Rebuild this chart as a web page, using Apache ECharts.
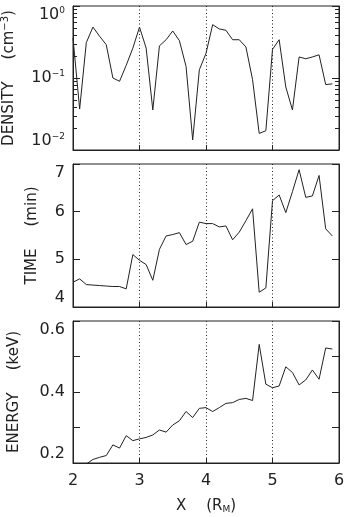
<!DOCTYPE html>
<html>
<head>
<meta charset="utf-8">
<script src="https://cdn.jsdelivr.net/npm/echarts@6/dist/echarts.min.js"></script>
<style>
html,body{margin:0;padding:0;background:#fff;}
#c{width:344px;height:517px;}
</style>
</head>
<body>
<div id="c"></div>
<script>
// X positions (R_M)
const xValues = [2.0,2.1,2.2,2.3,2.4,2.5,2.6,2.7,2.8,2.9,3.0,3.1,3.2,3.3,3.4,3.5,3.6,3.7,3.8,3.9,
                 4.0,4.1,4.2,4.3,4.4,4.5,4.6,4.7,4.8,4.9,5.0,5.1,5.2,5.3,5.4,5.5,5.6,5.7,5.8,5.9];
// Density (cm^-3)
const density = [0.36,0.037,0.31,0.51,0.38,0.29,0.10,0.09,0.15,0.26,0.51,0.26,0.036,0.28,0.34,0.45,0.33,0.145,0.0138,0.13,
                 0.22,0.55,0.48,0.46,0.34,0.34,0.27,0.095,0.017,0.0185,0.25,0.34,0.075,0.036,0.196,0.185,0.196,0.21,0.081,0.083];
// Time (min)
const timeMin = [4.52,4.59,4.47,4.46,4.45,4.44,4.43,4.43,4.38,5.10,4.98,4.89,4.56,5.21,5.49,5.52,5.56,5.31,5.38,5.78,
                 5.75,5.75,5.68,5.70,5.41,5.57,5.81,6.06,4.31,4.40,6.23,6.35,5.98,6.42,6.88,6.30,6.33,6.76,5.64,5.49];
// Energy (keV)
const energy = [0.17,0.185,0.197,0.21,0.216,0.221,0.251,0.242,0.277,0.263,0.268,0.272,0.279,0.293,0.287,0.307,0.319,0.345,0.328,0.354,
                0.356,0.345,0.356,0.368,0.370,0.379,0.382,0.376,0.534,0.422,0.412,0.417,0.471,0.455,0.420,0.434,0.462,0.436,0.524,0.521];
// Log-axis minor tick values for the density panel
const densityMinorTicks = [0.02,0.03,0.04,0.05,0.06,0.07,0.08,0.09,0.2,0.3,0.4,0.5,0.6,0.7,0.8,0.9];
// Tick labels
const xTickLabels = ['2','3','4','5','6'];
const energyTickLabels = ['0.2','0.4','0.6'];

const pair = arr => arr.map((v, i) => [xValues[i], v]);
const INK = '#222222';
const FONT = '"DejaVu Sans", "Liberation Sans", sans-serif';

const grids = [
  {left: 73, right: 5, top: 6, height: 144},
  {left: 73, right: 5, top: 164, height: 143},
  {left: 73, right: 5, top: 321, height: 142}
];

const titleRich = {
  sup: {fontSize: 10, verticalAlign: 'top', color: INK, fontFamily: FONT, lineHeight: 18},
  sub: {fontSize: 9, verticalAlign: 'bottom', color: INK, fontFamily: FONT, lineHeight: 14},
  gap: {width: 22, fontSize: 15, fontFamily: FONT}
};

function xAxisFor(i) {
  const last = i === 2;
  return {
    type: 'value', gridIndex: i, min: 2, max: 6, interval: 1,
    axisLine: {show: true, lineStyle: {color: INK, width: 1}},
    axisTick: {show: true, inside: true, length: 5, lineStyle: {color: INK}},
    axisLabel: {show: last, margin: 10, fontSize: 16, color: INK, fontFamily: FONT,
                formatter: v => xTickLabels[Math.round(v) - 2]},
    splitLine: {show: true, lineStyle: {type: [1, 2.5], color: INK, width: 1}},
    name: last ? 'X{gap|}(R{sub|M})' : '',
    nameLocation: 'middle', nameGap: 36,
    nameTextStyle: {fontSize: 15, color: INK, fontFamily: FONT,
                    rich: Object.assign({}, titleRich, {gap: {width: 20, fontSize: 15, fontFamily: FONT}})}
  };
}

function yAxisPair(i, base) {
  const left = Object.assign({
    gridIndex: i, position: 'left',
    axisLine: {show: true, lineStyle: {color: INK, width: 1}},
    axisTick: {show: true, inside: true, length: 7, lineStyle: {color: INK}},
    splitLine: {show: false},
    nameLocation: 'middle',
    nameTextStyle: {fontSize: 15, color: INK, fontFamily: FONT, rich: titleRich}
  }, base);
  left.axisLabel = Object.assign({show: true, margin: 8, fontSize: 16, color: INK, fontFamily: FONT, lineHeight: 18,
                verticalAlignMinLabel: 'bottom', verticalAlignMaxLabel: 'top'}, base.axisLabel || {});
  const right = {
    gridIndex: i, position: 'right', type: base.type, min: base.min, max: base.max, interval: base.interval, logBase: base.logBase,
    axisLine: {show: true, lineStyle: {color: INK, width: 1}},
    axisTick: {show: true, inside: true, length: 7, lineStyle: {color: INK}},
    axisLabel: {show: false}, splitLine: {show: false}
  };
  return [left, right];
}

const yAxes = [
  ...yAxisPair(0, {type: 'log', logBase: 10, min: 0.01, max: 1,
    name: 'DENSITY{gap|}(cm{sup|−3})', nameGap: 55,
    axisLabel: {formatter: v => {
      const e = Math.round(Math.log10(v));
      return '10{sup|' + (e < 0 ? '−' + (-e) : e) + '}';
    }, rich: {sup: {fontSize: 9, verticalAlign: 'top', color: INK, fontFamily: FONT}}}}),
  ...yAxisPair(1, {type: 'value', min: 4, max: 7, interval: 1,
    name: 'TIME{gap|}(min)', nameGap: 33}),
  ...yAxisPair(2, {type: 'value', min: 0.2, max: 0.6, interval: 0.1,
    name: 'ENERGY{gap|}(keV)', nameGap: 51,
    axisLabel: {formatter: v => {
      const k = Math.round(v * 10);
      return k % 2 === 0 ? energyTickLabels[(k - 2) / 2] : '';
    }}})
];

const lineStyle = {color: INK, width: 1};
const option = {
  animation: false,
  backgroundColor: '#fff',
  grid: grids.map(g => Object.assign({show: true, borderColor: INK, borderWidth: 1, backgroundColor: 'transparent',
                                      outerBoundsMode: 'none', containLabel: false}, g)),
  xAxis: [xAxisFor(0), xAxisFor(1), xAxisFor(2)],
  yAxis: yAxes,
  series: [
    {type: 'line', xAxisIndex: 0, yAxisIndex: 0, data: pair(density), showSymbol: false, lineStyle, clip: true},
    {type: 'line', xAxisIndex: 1, yAxisIndex: 2, data: pair(timeMin), showSymbol: false, lineStyle, clip: true},
    {type: 'line', xAxisIndex: 2, yAxisIndex: 4, data: pair(energy), showSymbol: false, lineStyle, clip: true},
    {type: 'custom', xAxisIndex: 0, yAxisIndex: 0, silent: true,
     data: densityMinorTicks.map(v => [2, v]),
     renderItem: (params, api) => {
       const v = api.value(1);
       const pl = api.coord([2, v]);
       const pr = api.coord([6, v]);
       const y = Math.round(pl[1]) + 0.5;
       return {type: 'group', children: [
         {type: 'line', shape: {x1: pl[0], y1: y, x2: pl[0] + 4, y2: y}, style: {stroke: INK, lineWidth: 1}},
         {type: 'line', shape: {x1: pr[0] - 4, y1: y, x2: pr[0], y2: y}, style: {stroke: INK, lineWidth: 1}}
       ]};
     }}
  ]
};
echarts.init(document.getElementById('c')).setOption(option);
</script>
</body>
</html>
